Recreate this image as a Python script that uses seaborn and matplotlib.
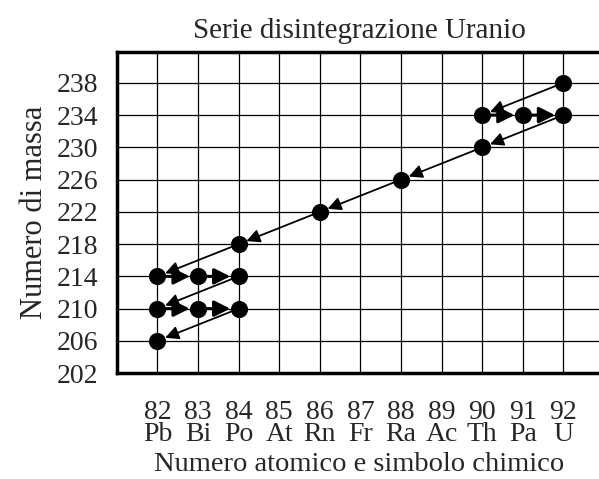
import matplotlib
matplotlib.use("Agg")
import matplotlib.pyplot as plt
import seaborn as sns

# decay chain in order: atomic number, mass number
atomic_number = [92, 90, 91, 92, 90, 88, 86, 84, 82, 83, 84, 82, 83, 84, 82]
mass_number = [238, 234, 234, 234, 230, 226, 222, 218, 214, 214, 214, 210, 210, 210, 206]

x_ticks = [81, 82, 83, 84, 85, 86, 87, 88, 89, 90, 91, 92]
symbols = ['', 'Pb', 'Bi', 'Po', 'At', 'Rn', 'Fr', 'Ra', 'Ac', 'Th', 'Pa', 'U']
y_ticks = list(range(202, 239, 4))

sns.set_style('white')
plt.rcParams['font.family'] = ['Liberation Serif', 'DejaVu Serif']

fig = plt.figure(figsize=(5.99, 4.79), dpi=100)
ax = fig.add_axes([0.195, 0.221, 0.81, 0.670])

# arrows between consecutive members of the chain
for i in range(len(atomic_number) - 1):
    beta = mass_number[i] == mass_number[i + 1]
    ax.annotate('', xy=(atomic_number[i + 1], mass_number[i + 1]),
                xytext=(atomic_number[i], mass_number[i]),
                arrowprops=dict(arrowstyle='-|>', color='black',
                                lw=2.2 if beta else 1.3,
                                shrinkA=5, shrinkB=6,
                                mutation_scale=24 if beta else 20),
                zorder=4)

sns.scatterplot(x=atomic_number, y=mass_number, color='black', s=130,
                edgecolor='black', zorder=5, ax=ax)

ax.set_xlim(81, 92.95)
ax.set_ylim(202, 241.8)
ax.set_xticks(x_ticks)
ax.set_xticklabels([f'{n}\n{s}' if s else '' for n, s in zip(x_ticks, symbols)],
                   linespacing=0.85)
ax.set_yticks(y_ticks)
ax.tick_params(axis='both', direction='out', length=10, width=1, color='black',
               labelsize=20, pad=3)
ax.tick_params(axis='x', pad=9)
ax.grid(True, color='black', lw=0.9)
ax.set_axisbelow(True)

for side in ['left', 'top', 'bottom']:
    ax.spines[side].set_linewidth(2.5)
    ax.spines[side].set_color('black')
ax.spines['right'].set_visible(False)

ax.set_title('Serie disintegrazione Uranio', fontsize=21, pad=10)
ax.set_xlabel('Numero atomico e simbolo chimico', fontsize=20.5, labelpad=4)
ax.set_ylabel('Numero di massa', fontsize=22, labelpad=6)

fig.savefig('out.png', dpi=100)
